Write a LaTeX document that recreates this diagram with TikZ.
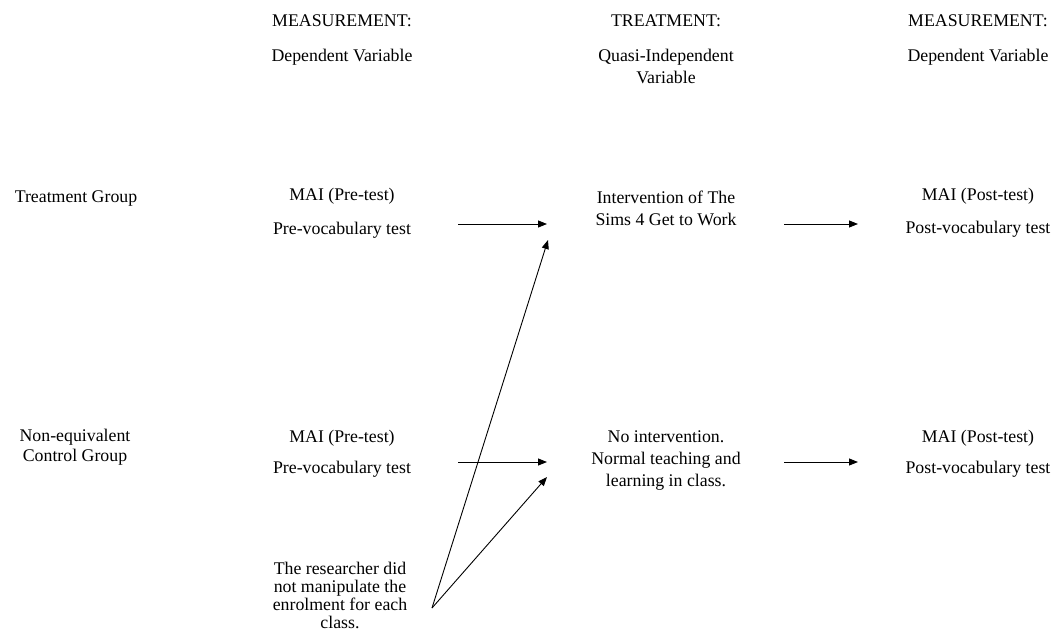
\documentclass[tikz,border=0pt]{standalone}
\usepackage{fontspec}
\setmainfont{Liberation Serif}
\usetikzlibrary{arrows.meta}
\begin{document}
\begin{tikzpicture}[x=1pt,y=-1pt,
  lbl/.style={inner sep=0pt, align=center, anchor=base,
    font=\fontsize{17.8}{22}\selectfont},
  flow/.style={line width=0.9pt, -{Triangle[length=9pt,width=7pt]}},
]
\useasboundingbox (0,0) rectangle (1061,637);

% column headings (multi-line nodes are placed by their last baseline)
\node[lbl] (h1a) at (342,27) {MEASUREMENT:};
\node[lbl] (h1b) at (342,61) {Dependent Variable};
\node[lbl] (h2a) at (666,27) {TREATMENT:};
\node[lbl] (h2b) at (666,83) {Quasi-Independent\\Variable};
\node[lbl] (h3a) at (978,27) {MEASUREMENT:};
\node[lbl] (h3b) at (978,61) {Dependent Variable};

% treatment group row
\node[lbl] (g1) at (76,202) {Treatment Group};
\node[lbl] (pre1) at (342,200) {MAI (Pre-test)};
\node[lbl] (voc1) at (342,234) {Pre-vocabulary test};
\node[lbl] (int1) at (666,225) {Intervention of The\\Sims 4 Get to Work};
\node[lbl] (post1) at (978,200) {MAI (Post-test)};
\node[lbl] (pvoc1) at (978,233) {Post-vocabulary test};

% control group row
\node[lbl, font=\fontsize{17.8}{20}\selectfont] (g2) at (75,461) {Non-equivalent\\Control Group};
\node[lbl] (pre2) at (342,442) {MAI (Pre-test)};
\node[lbl] (voc2) at (342,473) {Pre-vocabulary test};
\node[lbl] (int2) at (666,486) {No intervention.\\Normal teaching and\\learning in class.};
\node[lbl] (post2) at (978,442) {MAI (Post-test)};
\node[lbl] (pvoc2) at (978,473) {Post-vocabulary test};

% note on group assignment
\node[lbl, font=\fontsize{17.8}{17.8}\selectfont] (note) at (340,628)
  {The researcher did\\not manipulate the\\enrolment for each\\class.};

% arrow end points
\coordinate (a1s) at (458,224);
\coordinate (a1e) at (547,224);
\coordinate (b1s) at (784,224);
\coordinate (b1e) at (858,224);
\coordinate (a2s) at (458,462);
\coordinate (a2e) at (547,462);
\coordinate (b2s) at (784,462);
\coordinate (b2e) at (858,462);
\coordinate (fork) at (432,608);
\coordinate (f1e) at (548,240);
\coordinate (f2e) at (547,477);

\draw[flow] (a1s) -- (a1e);
\draw[flow] (b1s) -- (b1e);
\draw[flow] (a2s) -- (a2e);
\draw[flow] (b2s) -- (b2e);
\draw[flow] (fork) -- (f1e);
\draw[flow] (fork) -- (f2e);
\end{tikzpicture}
\end{document}
